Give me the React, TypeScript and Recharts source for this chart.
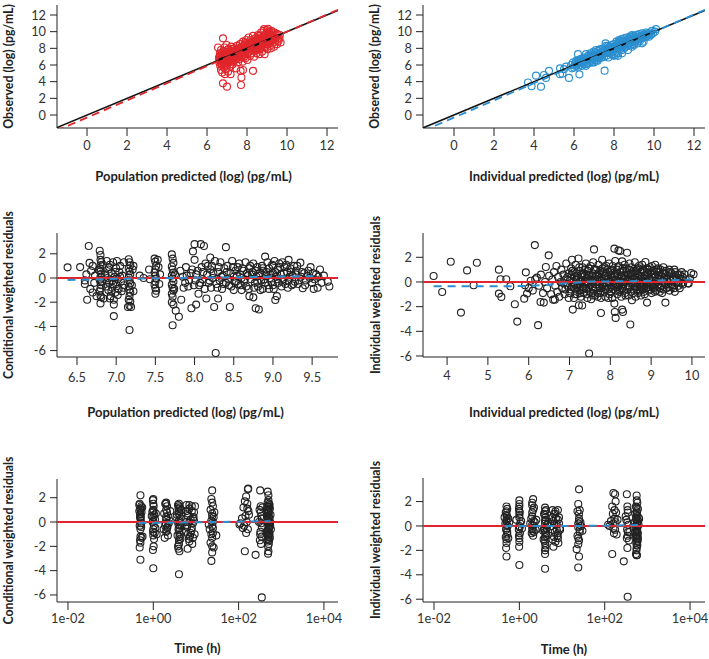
import React from "react";
import { ScatterChart, Scatter, XAxis, YAxis } from "recharts";

const RED = "#e0262c";
const BLUE = "#2b8fcf";
const INK = "#222222";

/* ---------- observed vs population predicted ---------- */
const predObs = [
  [6.55,8.1],[6.6,6.9],[6.62,6.3],[6.64,7.4],[6.66,5.9],[6.68,6.6],[6.7,7.8],[6.7,5.4],[6.72,6.1],[6.74,7.1],
  [6.75,6.8],[6.76,5.1],[6.78,7.5],[6.8,6.4],[6.8,9.2],[6.8,3.8],[6.82,6.9],[6.84,5.7],[6.85,7.3],[6.86,6.2],
  [6.88,8.1],[6.9,6.7],[6.9,4.9],[6.92,7.6],[6.94,5.5],[6.95,6.5],[6.97,7.0],[6.98,8.4],[7.0,3.4],[7.0,6.0],
  [7.02,7.2],[7.04,6.6],[7.05,5.2],[7.07,7.9],[7.1,6.3],[7.12,7.4],[7.15,6.9],[7.17,5.8],[7.18,4.9],[7.2,7.7],
  [7.2,6.5],[7.22,8.2],[7.25,7.0],[7.28,6.1],[7.3,7.5],[7.32,6.8],[7.35,8.0],[7.38,7.2],[7.4,6.6],[7.42,7.8],
  [7.45,5.6],[7.48,7.1],[7.5,8.3],[7.5,6.9],[7.52,7.5],[7.55,6.3],[7.58,8.0],[7.6,7.3],[7.62,6.7],[7.65,8.5],
  [7.68,5.3],[7.7,7.6],[7.7,3.6],[7.72,4.5],[7.72,6.9],[7.74,8.2],[7.76,7.2],[7.78,6.4],[7.8,8.8],[7.8,5.4],
  [7.82,7.8],[7.85,7.0],[7.88,8.4],[7.9,7.5],[7.92,6.8],[7.95,9.0],[7.97,8.1],[8.0,7.3],[8.0,8.7],[8.02,6.6],
  [8.05,7.9],[8.08,9.3],[8.1,7.6],[8.12,8.4],[8.15,7.1],[8.18,9.0],[8.2,8.0],[8.22,7.4],[8.25,8.8],[8.28,7.8],
  [8.3,5.3],[8.3,9.5],[8.32,8.3],[8.35,7.0],[8.38,8.6],[8.4,7.7],[8.42,9.2],[8.45,8.1],[8.48,7.4],[8.5,8.9],
  [8.52,8.4],[8.55,9.6],[8.58,7.9],[8.6,8.7],[8.62,7.3],[8.65,9.3],[8.68,8.2],[8.7,9.9],[8.72,8.6],[8.75,7.6],
  [8.78,9.1],[8.8,8.4],[8.82,10.1],[8.85,8.9],[8.88,7.3],[8.9,9.5],[8.92,8.1],[8.95,9.8],[8.98,8.7],[9.0,10.2],
  [9.0,9.1],[9.02,7.9],[9.05,8.5],[9.08,9.7],[9.1,8.9],[9.12,10.0],[9.15,8.3],[9.18,9.4],[9.2,8.0],[9.22,10.1],
  [9.25,9.0],[9.28,8.6],[9.3,9.6],[9.35,8.2],[9.38,9.9],[9.4,8.8],[9.45,9.3],[9.5,8.5],[9.52,9.7],[9.58,8.9],
  [9.62,9.2],[9.68,8.7],[7.0,7.5],[7.1,6.7],[6.95,6.2],[7.3,6.4],[7.6,7.9],[7.8,7.4],[8.0,8.2],[8.15,8.6],
  [8.4,8.3],[8.6,8.0],[8.8,9.3],[9.0,8.5],[9.2,9.3],[8.9,8.3],[8.7,8.5],[8.5,7.8],[8.3,8.0],[8.1,7.7],
  [7.9,8.0],[7.7,7.0],[7.4,7.0],[7.2,6.8],[6.85,6.5],[6.75,6.0],[6.65,7.0],[9.1,9.5],[9.3,9.1],[8.95,8.8],
  [8.65,8.8],[8.45,8.7],[8.85,10.3],[9.05,10.35],[8.6,9.5],[8.95,9.3],
  [6.62,6.6],[6.68,7.2],[6.72,6.4],[6.78,6.9],[6.83,7.7],[6.88,6.0],[6.93,7.1],[6.99,6.8],[7.03,7.8],[7.08,6.5],
  [7.13,7.0],[7.19,7.3],[7.24,6.6],[7.29,7.9],[7.34,7.1],[7.39,7.6],[7.44,6.8],[7.49,7.7],[7.54,7.0],[7.59,7.6],
  [7.64,7.3],[7.69,8.1],[7.74,7.5],[7.79,8.0],[7.84,7.7],[7.89,8.6],[7.94,7.8],[7.99,8.4],[8.04,8.1],[8.09,8.6],
  [8.14,7.9],[8.19,8.3],[8.24,8.6],[8.29,8.2],[8.34,8.9],[8.39,8.0],[8.44,8.5],[8.49,9.1],[8.54,8.7],[8.59,9.0],
  [8.64,8.5],[8.69,9.2],[8.74,8.9],[8.79,8.7],[8.84,9.5],[8.89,9.1],[8.94,9.6],[8.99,9.3],[9.04,9.9],[9.09,9.2],
  [9.14,9.7],[9.19,9.1],[9.24,9.5],[9.29,9.9],[9.34,9.3],[9.44,9.7],[9.54,9.2],[9.64,9.6],
];
const predObsTrend = [[-1.55, -1.9], [12.55, 12.62]];
const predObsSmooth = [[6.6, 6.7], [7.5, 7.4], [8.5, 8.45], [9.6, 9.6]];

/* ---------- observed vs individual predicted ---------- */
const ipredObs = [
  [3.7,3.9],[3.88,3.45],[4.1,4.72],[4.35,3.4],[4.5,4.8],[4.6,4.45],[4.75,5.3],[5.3,5.6],[5.3,4.9],[5.42,4.95],
  [5.75,4.45],[5.9,5.6],[6.2,7.3],[6.27,4.88],[7.53,5.32],[6.6,7.3],[5.5,5.5],[5.6,5.8],
  [5.85,6.0],[5.95,6.3],[6.0,5.7],[6.05,6.2],[6.1,6.5],[6.12,5.9],[6.15,6.1],[6.2,6.6],[6.22,5.8],[6.25,6.3],
  [6.3,6.0],[6.32,6.7],[6.35,6.4],[6.4,5.9],[6.42,6.8],[6.45,6.5],[6.5,6.2],[6.52,6.9],[6.55,6.6],[6.6,6.1],
  [6.62,6.8],[6.65,6.4],[6.7,7.1],[6.72,6.6],[6.75,6.2],[6.78,7.0],[6.8,6.7],[6.82,7.4],[6.85,6.5],[6.88,7.2],
  [6.9,6.9],[6.92,6.3],[6.95,7.1],[6.98,7.6],[7.0,6.8],[7.02,7.3],[7.05,6.6],[7.08,7.0],[7.1,7.5],[7.12,6.9],
  [7.15,7.2],[7.18,6.5],[7.2,7.7],[7.22,7.1],[7.25,6.8],[7.28,7.4],[7.3,7.0],[7.32,7.9],[7.35,7.3],[7.38,6.9],
  [7.4,7.6],[7.42,7.2],[7.45,8.0],[7.48,7.5],[7.5,7.0],[7.52,7.8],[7.55,7.4],[7.58,8.6],[7.6,7.7],[7.62,7.1],
  [7.65,8.0],[7.68,7.5],[7.7,7.9],[7.72,6.9],[7.75,7.7],[7.78,8.2],[7.8,7.4],[7.82,8.0],[7.85,7.6],[7.88,8.4],
  [7.9,7.9],[7.92,7.2],[7.95,8.1],[7.98,7.7],[8.0,8.5],[8.02,8.0],[8.05,7.5],[8.08,8.3],[8.1,7.9],[8.12,8.8],
  [8.15,8.2],[8.18,7.4],[8.2,8.6],[8.22,8.1],[8.25,9.0],[8.28,8.4],[8.3,7.9],[8.32,8.7],[8.35,8.2],[8.38,9.1],
  [8.4,8.5],[8.42,7.8],[8.45,8.8],[8.48,8.3],[8.5,9.2],[8.52,8.6],[8.55,8.1],[8.58,8.9],[8.6,8.5],[8.62,9.3],
  [8.65,8.8],[8.68,8.3],[8.7,9.0],[8.72,8.6],[8.75,9.2],[8.78,8.9],[8.8,8.4],[8.82,9.1],[8.85,8.7],[8.88,9.4],
  [8.9,9.0],[8.92,8.5],[8.95,9.2],[8.98,8.8],[9.0,9.5],[9.02,9.1],[9.05,8.7],[9.08,9.3],[9.1,9.0],[9.12,9.6],
  [9.15,9.2],[9.18,8.6],[9.2,9.4],[9.22,9.1],[9.25,9.7],[9.28,9.3],[9.3,8.9],[9.35,9.5],[9.38,9.2],[9.4,9.8],
  [9.45,9.4],[9.48,8.8],[9.5,9.6],[9.55,9.3],[9.6,9.9],[9.65,9.5],[9.7,9.7],[9.75,9.4],[9.8,9.9],[9.85,9.6],
  [9.9,10.1],[9.95,9.8],[10.05,10.0],[10.1,10.3],[8.1,7.2],[8.4,7.4],[8.7,7.8],[7.3,7.8],[6.6,5.9],[7.0,6.3],
  [8.9,8.2],[8.2,7.1],[9.4,8.6],[7.6,8.3],[8.0,7.1],[7.15,6.6],[6.9,6.4],[8.3,8.9],[8.55,8.5],[8.8,9.4],
  [6.05,5.9],[6.18,6.4],[6.28,6.5],[6.38,6.2],[6.48,6.7],[6.58,6.5],[6.68,6.8],[6.78,6.6],[6.86,6.9],[6.94,6.7],
  [7.03,7.0],[7.11,7.2],[7.19,7.0],[7.27,7.2],[7.36,7.5],[7.44,7.4],[7.53,7.6],[7.61,7.5],[7.69,7.7],[7.77,7.9],
  [7.86,7.8],[7.94,8.0],[8.03,8.2],[8.11,8.1],[8.19,8.3],[8.27,8.2],[8.36,8.5],[8.44,8.4],[8.53,8.7],[8.61,8.6],
  [8.69,8.8],[8.77,8.6],[8.86,9.0],[8.94,8.9],[9.03,9.2],[9.11,9.1],[9.19,9.3],[9.27,9.1],[9.36,9.4],[9.44,9.3],
  [9.53,9.5],[9.61,9.4],[9.69,9.8],[9.77,9.7],[7.4,6.9],[7.9,7.3],[8.5,8.0],[9.0,8.4],[7.1,7.8],[7.7,8.3],
  [8.3,8.8],[8.9,9.6],
];
const ipredObsTrend = [[-1.55, -1.9], [12.55, 12.62]];
const ipredObsSmooth = [[6.0, 6.0], [8.0, 8.0], [10.0, 10.0]];

/* ---------- CWRES vs population predicted ---------- */
const predCwres = [
  [6.38,0.88],[6.54,0.9],[6.6,-0.2],[6.6,-0.5],[6.62,0.3],[6.63,-1.8],[6.65,2.65],[6.66,1.25],[6.67,-0.9],[6.68,0.6],
  [6.7,-1.2],[6.7,1.0],[6.72,-0.4],[6.73,0.2],[6.75,-1.5],
  [6.79,2.25],[6.8,1.9],[6.8,1.5],[6.81,1.3],[6.8,1.05],[6.79,0.8],[6.8,0.55],[6.81,0.35],[6.8,0.1],[6.79,-0.15],
  [6.8,-0.35],[6.81,-0.6],[6.8,-0.85],[6.79,-1.1],[6.8,-1.45],[6.81,-1.6],[6.8,-2.1],[6.78,0.65],[6.82,-0.3],[6.83,1.1],
  [6.84,-1.7],
  [6.86,0.3],[6.87,-0.7],[6.88,1.4],[6.89,0.0],[6.9,-1.0],[6.9,0.7],[6.91,-0.4],[6.92,1.1],[6.93,-1.5],[6.94,0.4],
  [6.95,-0.2],[6.95,-0.8],[6.96,1.3],[6.97,-3.15],[6.97,-2.2],[6.98,0.1],[6.99,-1.2],[7.0,0.8],[7.0,-0.5],[7.01,1.4],
  [7.02,-0.1],[7.03,-0.9],[7.04,0.5],[7.05,1.0],[7.06,-0.3],[7.07,-1.1],[7.08,0.2],[7.1,1.3],[7.1,-0.6],[6.92,-1.7],
  [6.97,-1.8],[6.88,-0.2],[6.91,0.9],[6.94,-1.1],[6.99,0.5],[7.02,-1.4],[7.05,0.1],[7.09,-0.8],[6.96,-0.5],
  [7.16,1.55],[7.17,1.3],[7.18,1.05],[7.16,0.8],[7.17,0.55],[7.18,0.3],[7.16,0.05],[7.17,-0.2],[7.18,-0.45],[7.16,-0.7],
  [7.17,-0.95],[7.18,-1.2],[7.17,-1.5],[7.16,-1.8],[7.18,-1.95],[7.17,-2.3],[7.19,-2.4],[7.17,-4.3],[7.2,-0.6],[7.21,0.7],
  [7.22,-1.1],[7.22,1.0],[7.15,-2.4],
  [7.35,0.0],[7.42,0.7],[7.43,-0.1],[7.3,0.2],
  [7.49,1.6],[7.5,1.35],[7.51,1.0],[7.5,0.7],[7.49,0.45],[7.5,0.2],[7.51,-0.05],[7.5,-0.3],[7.49,-0.55],[7.5,-0.85],
  [7.51,-1.05],[7.5,-1.3],[7.53,1.5],[7.55,-0.5],[7.54,0.9],[7.56,0.3],
  [7.71,1.95],[7.72,1.6],[7.73,1.25],[7.71,0.95],[7.72,0.7],[7.73,0.45],[7.71,0.2],[7.72,-0.05],[7.73,-0.3],[7.71,-0.55],
  [7.72,-0.8],[7.73,-1.05],[7.71,-1.3],[7.72,-1.55],[7.71,-2.0],[7.73,-2.2],[7.76,-2.7],[7.72,-3.9],[7.8,-3.2],[7.83,-1.8],
  [7.75,0.3],[7.74,-0.9],
  [7.85,0.1],[7.88,-0.4],[7.9,0.2],[7.92,-0.7],[7.95,0.4],[7.96,-2.5],[7.98,2.2],[8.0,2.8],[8.0,1.5],[8.01,-0.2],
  [8.02,-2.2],[8.04,0.6],[8.05,-1.3],[8.06,-0.6],[8.08,2.8],[8.09,0.9],[8.1,-0.1],[8.12,2.65],[8.13,-0.9],[8.14,1.2],
  [8.15,-1.7],[8.16,0.3],[8.18,-0.4],[8.2,1.7],[8.2,0.7],[8.21,-0.8],[8.22,1.0],[8.23,0.0],
  [7.82,0.6],[7.86,-0.8],[7.89,0.9],[7.93,-0.2],[7.97,0.7],[7.99,-0.6],
  [8.25,-2.4],[8.26,1.4],[8.27,-6.2],[8.28,-0.5],[8.3,0.5],[8.3,-1.7],[8.32,-0.2],[8.33,1.3],[8.35,-0.9],[8.36,0.2],
  [8.38,0.8],[8.4,2.55],[8.4,-0.4],[8.42,1.0],[8.43,-0.1],[8.45,-2.4],[8.46,0.4],[8.47,-0.7],[8.48,1.4],[8.5,0.1],
  [8.5,-1.0],[8.52,0.6],[8.53,-0.3],
  [8.55,0.9],[8.56,-0.5],[8.58,0.3],[8.6,-1.0],[8.6,0.0],[8.62,0.6],[8.63,-0.3],[8.65,1.3],[8.66,-0.7],[8.68,0.2],
  [8.7,-1.5],[8.7,0.8],[8.72,-0.1],[8.74,0.5],[8.75,-1.6],[8.75,1.2],[8.77,-0.4],[8.78,-2.5],[8.79,0.1],[8.8,0.9],
  [8.81,-0.7],[8.82,-2.6],[8.83,0.4],[8.85,-0.2],[8.86,1.0],[8.87,-0.9],[8.88,0.6],[8.9,1.77],[8.9,-0.4],[8.91,0.2],
  [8.93,1.3],[8.94,-0.6],[8.95,0.8],[8.96,0.0],[8.98,-0.3],[8.99,1.1],[9.0,0.4],
  [8.02,0.3],[8.07,-0.4],[8.11,0.5],[8.17,1.0],[8.19,-0.2],[8.24,0.4],[8.29,-0.8],[8.31,0.9],[8.34,0.1],[8.37,-0.5],
  [8.41,0.5],[8.44,-0.6],[8.49,0.9],[8.51,-0.3],[8.54,0.2],[8.57,1.2],[8.59,-0.6],[8.61,0.8],[8.64,-0.1],[8.67,0.4],
  [8.69,-0.9],[8.71,1.0],[8.73,0.3],[8.76,-0.8],[8.78,0.6],[8.8,-0.3],[8.82,0.2],[8.84,-1.0],[8.87,0.8],[8.89,-0.1],
  [8.92,0.5],[8.95,-0.9],[8.97,0.3],[9.0,1.0],[9.0,-0.6],
  [9.01,-0.9],[9.02,1.4],[9.03,-1.82],[9.04,0.1],[9.05,-1.5],[9.06,0.7],[9.07,-0.4],[9.08,1.2],[9.1,0.3],[9.11,-0.7],
  [9.12,1.3],[9.13,-0.1],[9.15,0.9],[9.16,-0.5],[9.18,0.5],[9.2,1.5],[9.2,-0.2],[9.22,0.8],[9.24,-0.6],[9.25,0.2],
  [9.27,1.0],[9.28,-0.3],[9.03,0.5],[9.06,-0.1],[9.09,0.9],[9.12,-0.3],[9.14,0.4],[9.17,1.1],[9.19,-0.8],[9.21,0.1],
  [9.23,0.5],[9.26,-0.5],[9.29,0.3],
  [9.3,0.6],[9.32,-0.5],[9.35,1.27],[9.36,0.1],[9.38,-0.85],[9.4,0.4],[9.42,-0.2],[9.45,0.6],[9.47,0.0],[9.5,-0.4],
  [9.52,-0.9],[9.55,0.3],[9.57,-0.8],[9.6,0.7],[9.65,0.2],[9.7,-0.3],[9.72,-0.7],[9.31,1.0],[9.33,-0.2],[9.37,0.5],
  [9.41,-0.6],[9.44,0.2],[9.48,0.9],[9.51,0.4],[9.53,-0.1],[9.58,0.1],[9.62,-0.4],
];
const predCwresSmooth = [[6.38,-0.17],[6.7,-0.12],[7.0,-0.07],[7.5,-0.02],[8.0,0.02],[8.5,0.06],[9.0,0.1],[9.6,0.16]];

/* ---------- IWRES vs individual predicted ---------- */
const ipredIwres = [
  [3.67,0.49],[3.88,-0.81],[4.09,1.64],[4.34,-2.48],[4.49,0.94],[4.65,-0.27],[4.73,1.56],[5.27,1.0],[5.27,-0.94],[5.33,-1.21],
  [5.31,0.22],[5.45,0.22],[5.55,-0.35],[5.66,-1.81],[5.72,-3.21],[5.93,0.78],[5.89,-1.35],[5.96,-0.94],[5.91,-0.27],[6.15,2.99],
  [6.16,0.22],[6.23,-3.5],[6.29,-1.62],[6.49,2.16],[6.42,1.21],[6.37,-1.67],[6.6,-1.43],[6.64,-1.43],[6.0,-0.5],[6.05,0.1],
  [6.1,-0.7],[6.2,0.35],[6.25,-0.3],[6.3,0.6],[6.35,-0.9],[6.4,0.0],[6.45,-0.5],[6.5,0.5],[6.55,-1.0],[6.58,0.2],
  [6.62,0.8],[6.65,-0.3],[6.68,1.3],[6.7,-0.8],[6.72,0.4],[6.75,-1.2],[6.78,0.0],[6.8,1.0],[6.82,-0.5],[6.85,0.6],
  [6.88,-1.0],[6.9,0.2],[6.92,1.5],[6.95,-0.3],[6.98,0.7],[6.85,-0.1],[6.9,-0.6],[6.95,0.4],[6.98,-1.3],
  [7.0,-0.9],[7.02,0.3],[7.04,1.1],[7.05,-0.4],[7.06,1.8],[7.08,-2.24],[7.1,0.0],[7.11,-1.3],[7.12,0.8],[7.14,-0.6],
  [7.15,1.4],[7.16,0.2],[7.18,-1.0],[7.2,0.5],[7.21,-0.2],[7.22,1.9],[7.23,-1.89],[7.24,-0.7],[7.25,0.9],[7.27,0.1],
  [7.28,-1.2],[7.3,0.4],[7.31,-1.91],[7.32,1.2],[7.33,-0.4],[7.35,0.7],[7.36,-0.9],[7.38,0.0],[7.4,1.5],[7.41,-0.5],
  [7.42,0.3],[7.44,-1.3],[7.45,0.9],[7.46,-0.1],[7.48,-5.8],[7.48,0.5],[7.5,-0.8],[7.05,0.6],[7.13,-0.2],[7.27,-0.4],
  [7.37,0.5],[7.47,1.1],[7.01,0.1],[7.03,-0.6],[7.07,0.9],[7.09,-0.3],[7.12,0.4],[7.14,-1.0],[7.17,0.7],[7.19,-0.4],
  [7.21,0.2],[7.24,1.2],[7.26,-0.9],[7.29,0.0],[7.31,0.6],[7.34,-0.6],[7.37,1.0],[7.39,-0.2],[7.42,-1.0],[7.44,0.6],
  [7.47,-0.5],[7.49,0.2],
  [7.52,1.3],[7.53,-1.4],[7.54,0.1],[7.55,-0.4],[7.57,0.7],[7.58,1.6],[7.6,2.64],[7.6,-0.7],[7.62,0.3],[7.63,-1.1],
  [7.65,1.0],[7.66,-0.2],[7.68,0.6],[7.7,-0.9],[7.71,1.4],[7.72,0.0],[7.74,-0.5],[7.75,0.9],[7.77,-2.51],[7.77,-1.3],
  [7.78,0.4],[7.8,1.8],[7.8,-0.3],[7.82,0.8],[7.83,-0.8],[7.85,0.2],[7.86,1.2],[7.88,-1.2],[7.9,0.5],[7.91,-0.1],
  [7.93,1.0],[7.94,-0.6],[7.96,0.3],[7.97,1.5],[7.98,-1.0],[8.0,0.0],[7.56,-0.9],[7.64,0.5],[7.73,-0.2],[7.84,-0.4],
  [7.95,0.8],[7.52,-0.2],[7.55,0.5],[7.57,-1.1],[7.59,0.0],[7.62,1.0],[7.64,-0.5],[7.67,0.2],[7.69,-1.2],[7.72,0.7],
  [7.74,0.2],[7.76,-0.9],[7.79,0.1],[7.81,1.1],[7.83,-0.1],[7.86,0.5],[7.88,-0.6],[7.9,1.3],[7.92,-0.3],[7.95,-1.3],
  [7.97,0.0],
  [8.01,0.9],[8.02,-0.4],[8.04,0.4],[8.05,-1.3],[8.06,1.3],[8.08,-0.1],[8.1,2.7],[8.1,-1.75],[8.11,-2.43],[8.11,0.6],
  [8.12,1.7],[8.13,-2.91],[8.13,-0.7],[8.15,0.2],[8.16,1.0],[8.17,-1.0],[8.18,0.5],[8.2,2.56],[8.2,-0.3],[8.21,1.3],
  [8.22,-0.8],[8.24,2.51],[8.24,0.1],[8.25,0.8],[8.27,-1.2],[8.28,0.4],[8.29,1.67],[8.29,-2.24],[8.3,-0.5],[8.31,-2.43],
  [8.32,0.9],[8.33,0.0],[8.35,1.4],[8.36,-0.9],[8.37,0.3],[8.38,-0.3],[8.4,1.1],[8.41,2.37],[8.42,-0.6],[8.43,0.6],
  [8.45,-1.1],[8.46,0.1],[8.47,1.5],[8.48,-0.4],[8.49,-3.45],[8.5,0.7],[8.07,0.1],[8.14,-0.2],[8.23,-0.1],[8.34,0.5],
  [8.44,0.2],[8.0,0.6],[8.02,-0.8],[8.04,1.0],[8.07,-0.6],[8.09,0.4],[8.12,-0.3],[8.14,0.7],[8.17,-0.4],[8.19,1.2],
  [8.21,0.0],[8.23,-0.6],[8.26,0.5],[8.28,-0.2],[8.3,1.1],[8.33,-0.7],[8.35,0.2],[8.37,-1.1],[8.39,0.8],[8.42,0.1],
  [8.44,-0.3],[8.46,1.0],[8.48,0.3],
  [8.51,-0.8],[8.52,1.2],[8.53,-1.48],[8.54,0.3],[8.55,-0.1],[8.57,0.9],[8.58,-0.6],[8.6,1.6],[8.61,0.4],[8.62,-1.2],
  [8.63,0.0],[8.65,1.0],[8.66,-0.4],[8.67,0.6],[8.68,-0.9],[8.7,1.3],[8.71,0.2],[8.72,-0.3],[8.74,0.8],[8.75,-1.1],
  [8.76,0.4],[8.78,1.4],[8.79,-0.6],[8.8,0.1],[8.82,0.9],[8.83,-0.2],[8.84,-1.0],[8.86,1.62],[8.86,0.5],[8.88,-0.5],
  [8.9,-1.67],[8.9,1.1],[8.91,0.0],[8.93,0.7],[8.94,-0.7],[8.95,0.3],[8.97,1.2],[8.98,-0.3],[9.0,0.6],[8.64,0.7],
  [8.73,-0.7],[8.85,0.3],[8.96,-0.1],[8.51,0.0],[8.53,0.6],[8.56,-0.9],[8.58,0.2],[8.6,-0.2],[8.62,0.9],[8.64,-0.6],
  [8.67,0.1],[8.69,1.1],[8.71,-0.6],[8.73,0.5],[8.75,0.0],[8.77,-0.4],[8.8,1.0],[8.82,-0.8],[8.84,0.5],[8.87,-0.1],
  [8.89,0.8],[8.92,-0.4],[8.94,1.0],[8.96,0.2],[8.99,-0.6],
  [9.01,-0.9],[9.02,1.3],[9.04,0.1],[9.05,-0.5],[9.06,0.9],[9.08,-0.2],[9.1,1.4],[9.11,0.4],[9.12,-0.7],[9.14,0.8],
  [9.15,0.0],[9.17,1.1],[9.18,-0.4],[9.2,0.5],[9.21,-0.8],[9.23,1.0],[9.24,0.2],[9.26,-0.3],[9.28,0.7],[9.3,1.2],
  [9.3,-0.6],[9.32,0.3],[9.34,-0.1],[9.35,-1.67],[9.36,0.9],[9.38,-0.5],[9.4,0.5],[9.42,0.0],[9.44,1.0],[9.45,-0.7],
  [9.47,0.3],[9.49,-0.2],[9.02,0.4],[9.04,-0.3],[9.07,0.6],[9.09,-0.8],[9.11,0.1],[9.13,1.0],[9.16,-0.2],[9.19,0.8],
  [9.22,-0.5],[9.25,0.5],[9.27,-0.9],[9.29,0.1],[9.33,0.7],[9.37,-0.2],[9.39,0.2],[9.43,-0.4],[9.46,0.8],[9.48,0.1],
  [9.5,0.7],[9.52,-0.4],[9.55,0.2],[9.57,1.0],[9.58,-0.8],[9.6,0.4],[9.62,-0.1],[9.65,0.6],[9.68,0.0],[9.7,-0.5],
  [9.72,0.3],[9.75,0.8],[9.78,-0.2],[9.82,0.62],[9.85,0.2],[9.9,-0.1],[9.92,-0.13],[9.98,0.73],[10.04,0.62],[9.95,0.3],
  [9.53,0.4],[9.56,-0.5],[9.59,0.8],[9.63,0.2],[9.67,-0.3],[9.71,0.6],[9.74,-0.1],[9.77,0.4],
];
const ipredIwresSmooth = [[3.67,-0.35],[5.0,-0.35],[6.0,-0.33],[6.5,-0.22],[7.0,-0.08],[7.5,0.03],[8.0,0.05],[8.5,0.06],[9.0,0.1],[9.5,0.15],[10.0,0.2]];

/* ---------- CWRES vs time ---------- */
const timeCwres = [
  [0.5,2.2],[0.48,1.5],[0.52,1.3],[0.5,1.1],[0.47,0.9],[0.53,0.8],[0.5,0.7],[0.49,0.6],[0.51,0.45],[0.5,0.3],
  [0.48,-0.3],[0.52,-0.4],[0.5,-1.2],[0.53,-1.3],[0.49,-1.5],[0.5,-1.7],[0.48,-2.1],[0.5,-3.1],[0.51,0.1],[0.55,1.2],
  [0.56,-1.2],[0.5,1.0],[0.49,0.4],[0.52,-0.1],[0.5,-0.6],[0.47,1.4],
  [1.0,1.9],[0.98,1.8],[1.02,1.3],[1.0,1.0],[0.95,0.85],[1.05,0.6],[1.0,0.4],[1.1,0.2],[0.97,0.0],[1.03,-0.3],
  [1.0,-0.6],[1.08,-0.9],[1.0,-1.1],[1.02,-2.0],[0.98,-2.3],[1.0,-3.8],[1.12,-0.5],[1.15,0.7],[1.2,-1.0],[0.92,0.5],
  [1.0,1.5],[1.01,0.9],[0.99,-0.8],[1.04,-1.4],[1.0,0.1],
  [2.0,1.6],[1.9,1.5],[2.1,1.3],[2.0,1.0],[1.8,0.7],[2.2,0.5],[2.0,0.2],[2.3,-0.1],[1.9,-0.3],[2.1,-0.5],
  [2.0,-0.8],[2.2,-1.1],[1.85,-1.3],[2.4,0.1],[2.5,0.9],[1.75,-0.6],[2.0,1.5],[2.1,0.8],[1.95,-0.1],[2.05,-0.7],
  [2.0,0.4],[2.15,-0.4],
  [4.0,1.5],[3.8,1.4],[4.2,1.2],[4.0,0.9],[3.6,0.6],[4.4,0.3],[4.0,0.1],[3.9,-0.2],[4.1,-0.5],[4.0,-0.8],
  [3.7,-1.1],[4.3,-1.4],[4.0,-1.8],[3.9,-2.2],[4.1,-2.4],[4.0,-4.3],[4.6,-0.3],[4.5,1.0],[3.5,0.4],[4.2,-1.0],
  [4.0,1.3],[3.9,1.1],[4.1,0.5],[3.8,0.0],[4.2,-0.3],[3.9,-0.6],[4.1,-1.2],[4.0,-1.5],[3.8,-2.0],[4.0,0.7],
  [6.0,1.4],[8.0,1.3],[7.0,1.1],[9.0,0.8],[6.5,0.5],[7.5,0.2],[8.5,-0.1],[6.2,-0.4],[7.8,-0.7],[9.3,-1.0],
  [6.8,-1.4],[8.2,-1.8],[6.4,-2.2],[5.8,0.0],[9.5,1.3],[7.2,-1.2],[8.8,0.4],[5.9,-0.8],[7.0,1.4],[8.0,0.9],
  [6.5,0.7],[8.5,0.3],[7.0,0.0],[6.0,-0.3],[8.0,-0.5],[7.5,-0.9],[6.5,-1.0],[8.5,-1.3],[7.0,-1.6],[6.0,0.9],
  [9.0,0.1],
  [24,2.6],[23,1.9],[25,1.3],[22,1.0],[24,0.7],[26,0.4],[23,0.1],[24,-0.3],[21,-0.6],[25,-0.9],
  [24,-1.3],[22,-1.7],[26,-2.1],[24,-2.5],[23,-3.2],[30,-1.1],[27,0.8],[20,-0.2],[24,1.6],[24,0.5],
  [25,-0.5],[23,-1.0],[24,-2.0],[25,0.0],
  [168,2.75],[165,2.7],[150,2.1],[140,1.7],[160,1.5],[130,1.2],[170,0.9],[145,0.5],[120,0.3],[110,-0.1],
  [155,0.0],[135,-0.3],[165,-0.6],[150,-0.9],[140,-2.4],[125,-0.5],[175,0.6],[105,-0.2],[160,1.1],
  [320,2.6],[330,1.3],[310,1.0],[340,0.5],[300,0.0],[350,-0.4],[325,-0.8],[345,-1.2],[315,-1.5],[335,-1.8],
  [250,-2.7],[350,-6.2],[280,0.2],[360,1.2],[330,0.8],[340,-0.1],[320,-1.0],[350,0.3],
  [480,2.5],[500,1.8],[520,1.5],[470,1.3],[540,1.1],[490,0.9],[510,0.7],[460,0.5],[530,0.3],[500,0.1],
  [480,-0.1],[550,-0.3],[505,-0.5],[470,-0.7],[520,-0.9],[495,-1.1],[540,-1.3],[480,-1.6],[510,-1.8],[500,-2.4],
  [490,-2.6],[560,0.6],[450,1.0],[520,-0.2],[530,1.4],[460,-1.0],[570,-0.6],[485,0.2],[500,2.2],[480,1.6],
  [520,1.2],[500,0.8],[510,0.4],[490,0.0],[530,-0.4],[480,-0.8],[505,-1.2],[520,-1.5],[490,-2.0],[500,1.0],
  [510,-0.6],[475,0.4],[545,0.0],[530,-1.0],[505,1.3],[495,-1.4],
];
const timeCwresSmooth = [[0.45,-0.07],[1,-0.06],[4,-0.04],[10,-0.02],[30,0.0],[100,0.03],[300,0.06],[560,0.07]];

/* ---------- IWRES vs time ---------- */
const timeIwres = [
  [0.5,1.6],[0.52,1.4],[0.48,1.1],[0.5,0.9],[0.55,0.6],[0.5,0.4],[0.47,0.2],[0.53,0.0],[0.5,-0.2],[0.52,-0.5],
  [0.48,-0.9],[0.5,-1.1],[0.55,-1.0],[0.5,-1.4],[0.49,-1.8],[0.5,-2.5],[0.58,0.3],[0.45,0.7],[0.5,1.2],[0.51,0.8],
  [0.5,0.1],[0.49,-0.3],[0.52,-0.7],[0.5,0.5],
  [1.0,2.1],[1.0,1.8],[0.98,1.4],[1.02,1.1],[1.0,0.9],[0.85,0.5],[1.05,0.2],[1.0,0.0],[0.97,-0.3],[1.03,-0.6],
  [1.0,-1.0],[1.0,-1.3],[0.99,-1.7],[1.0,-3.2],[1.1,0.4],[1.15,-0.2],[1.0,1.6],[1.0,0.7],[1.02,-0.1],[0.98,-0.8],
  [1.0,1.2],
  [2.1,2.2],[2.0,1.9],[2.2,1.5],[2.0,1.1],[1.9,0.6],[2.3,0.3],[2.1,0.0],[2.0,-0.2],[2.2,-0.5],[2.1,-0.8],
  [2.5,0.5],[1.8,0.2],[2.4,-0.3],[2.0,1.7],[2.1,1.3],[2.0,0.8],[2.15,0.4],[2.0,0.1],[2.05,-0.4],[1.95,-0.6],
  [4.0,1.5],[4.2,1.3],[3.8,1.0],[4.1,0.7],[4.0,0.4],[4.5,0.1],[3.9,-0.2],[4.0,-0.5],[4.3,-0.8],[3.7,-1.1],
  [4.0,-1.4],[4.1,-1.8],[4.0,-2.3],[4.0,-3.5],[4.8,0.3],[3.6,-0.4],[4.0,1.2],[3.9,0.9],[4.1,0.5],[4.0,0.2],
  [3.8,-0.3],[4.2,-0.6],[4.0,-0.9],[3.9,-1.2],[4.1,-1.6],[4.0,-2.0],[4.4,-0.2],
  [6.0,1.3],[8.0,1.3],[7.0,1.2],[6.5,1.0],[8.5,0.7],[6.2,0.4],[7.5,0.1],[8.8,-0.2],[6.8,-0.5],[7.8,-0.8],
  [6.0,-1.1],[8.2,-1.4],[6.3,-1.7],[9.0,-0.3],[5.6,0.0],[7.2,0.6],[7.0,1.0],[6.0,0.7],[8.0,0.5],[6.5,0.2],
  [7.5,-0.3],[8.0,-0.6],[6.5,-0.9],[7.0,-1.3],[8.0,-1.0],[6.0,-0.3],[8.5,0.2],
  [25,3.0],[24,1.8],[26,1.3],[23,1.2],[25,0.6],[27,0.3],[24,-0.1],[26,-0.5],[23,-0.8],[25,-1.2],
  [24,-1.5],[22,-1.9],[25,-2.5],[24,-3.4],[28,0.0],[30,-0.4],[25,1.0],[24,0.2],[26,-0.3],[24,-1.0],
  [25,0.4],
  [160,2.7],[175,2.6],[180,2.0],[150,1.6],[170,1.3],[185,1.1],[140,0.4],[160,0.2],[130,0.0],[175,-0.3],
  [165,-0.6],[190,-0.7],[150,-2.3],[120,0.1],[200,0.5],[170,0.6],[160,-0.2],[180,0.3],[155,1.0],
  [330,2.6],[340,1.6],[350,1.1],[320,0.5],[360,0.1],[335,-0.3],[345,-0.8],[370,-1.2],[340,-1.8],[280,-2.9],
  [345,-5.8],[310,0.8],[380,-0.5],[340,0.3],[350,-0.5],[330,-1.0],[345,1.3],
  [560,2.5],[580,1.9],[540,1.6],[600,1.4],[560,1.2],[520,1.0],[590,0.8],[550,0.6],[610,0.4],[570,0.2],
  [530,0.0],[580,-0.2],[560,-0.4],[600,-0.6],[540,-0.8],[570,-1.0],[590,-1.2],[550,-1.4],[580,-1.6],[560,-1.8],
  [540,-2.3],[570,-2.4],[620,0.1],[500,0.3],[600,-1.0],[520,-0.5],[640,0.6],[560,0.9],[560,1.5],[570,1.1],
  [550,0.7],[580,0.3],[560,-0.1],[570,-0.5],[550,-0.9],[580,-1.3],[565,-1.6],[555,-2.0],[590,0.0],[545,0.5],
  [575,-0.8],[565,2.1],[560,-2.4],
];
const timeIwresSmooth = [[0.45,0.0],[1,0.0],[10,-0.01],[100,0.02],[300,0.06],[600,0.08]];

const zeroLineLin = [[0, 0], [20, 0]];
const zeroLineLog = [[0.001, 0], [100000, 0]];
const diagLine = [[-1.55, -1.55], [12.6, 12.6]];

const obsTicks = [0, 2, 4, 6, 8, 10, 12];
const resTicks = [-6, -4, -2, 0, 2];
const predTicks = [6.5, 7.0, 7.5, 8.0, 8.5, 9.0, 9.5];
const ipredTicks = [4, 5, 6, 7, 8, 9, 10];
const timeTicks = [0.01, 1, 100, 10000];

const toPts = (arr: number[][]) => arr.map(([x, y]) => ({ x, y }));

const ring = (color: string) => (p: any) => (
  <circle cx={p.cx} cy={p.cy} r={3.5} fill="none" stroke={color} strokeWidth={1.1} />
);
const noDot = () => <g />;

const fmtExp = (v: number) => {
  const e = Math.round(Math.log10(v));
  return `1e${e < 0 ? "-" : "+"}${String(Math.abs(e)).padStart(2, "0")}`;
};
const fmtOne = (v: number) => v.toFixed(1);

const yTitleStyle = { fontWeight: 700, fontSize: 12.3, fill: "#222", textAnchor: "middle" };
const xTitleStyle = { fontWeight: 700, fontSize: 13, fill: "#222" };
const tickStyle = { fill: "#333", fontSize: 12.8 };

function pts(data: number[][], color: string) {
  return <Scatter data={toPts(data)} shape={ring(color)} isAnimationActive={false} />;
}
function line(data: number[][], color: string, width: number, dash?: string) {
  return (
    <Scatter
      data={toPts(data)}
      shape={noDot}
      line={{ stroke: color, strokeWidth: width, strokeDasharray: dash }}
      lineType="joint"
      isAnimationActive={false}
    />
  );
}

function Panel(props: any) {
  const {
    left, top, yAxisW, plotW, plotH, xAxisH, xDomain, yDomain, xTicks, yTicks,
    xScale, xFmt, xLabel, yLabel, yLabelOff, xTickMargin, xLabelDx, xLabelOff, children,
  } = props;
  return (
    <div style={{ position: "absolute", left, top }}>
      <ScatterChart
        width={yAxisW + plotW + 4}
        height={5 + plotH + xAxisH}
        margin={{ top: 5, right: 4, bottom: 0, left: 0 }}
      >
        <XAxis
          type="number"
          dataKey="x"
          scale={xScale || "linear"}
          domain={xDomain}
          ticks={xTicks}
          interval={0}
          allowDataOverflow
          tickFormatter={xFmt}
          tickSize={8}
          tickMargin={xTickMargin}
          height={xAxisH}
          stroke={INK}
          tick={tickStyle}
          label={{ value: xLabel, position: "insideBottom", offset: xLabelOff ?? 4, dx: xLabelDx || 0, style: xTitleStyle }}
        />
        <YAxis
          type="number"
          dataKey="y"
          domain={yDomain}
          ticks={yTicks}
          interval={0}
          allowDataOverflow
          tickSize={7}
          tickMargin={4}
          width={yAxisW}
          stroke={INK}
          tick={tickStyle}
          label={{ value: yLabel, angle: -90, position: "insideLeft", offset: yLabelOff, style: yTitleStyle }}
        />
        {children}
      </ScatterChart>
    </div>
  );
}

export default function App() {
  return (
    <div
      style={{
        position: "absolute", left: 0, top: 0, width: 709, height: 659,
        overflow: "hidden", background: "#fff", fontFamily: "Lato, 'Open Sans', sans-serif",
      }}
    >
      <style>{`.recharts-surface{overflow:visible}`}</style>

      {/* fila 1: observado vs predicho */}
      <Panel left={0} top={0} yAxisW={57} plotW={281} plotH={123} xAxisH={60}
        xDomain={[-1.5, 12.55]} yDomain={[-1.56, 13.2]} xTicks={obsTicks} yTicks={obsTicks}
        xTickMargin={5} xLabelDx={-4} xLabelOff={7}
        xLabel="Population predicted (log) (pg/mL)" yLabel="Observed (log) (pg/mL)" yLabelOff={9}>
        {pts(predObs, RED)}
        {line(diagLine, "#111", 1.6)}
        {line(predObsSmooth, "#111", 1.8, "7 5")}
        {line(predObsTrend, RED, 1.8, "8 5")}
      </Panel>
      <Panel left={354} top={0} yAxisW={69} plotW={282} plotH={123} xAxisH={60}
        xDomain={[-1.55, 12.55]} yDomain={[-1.56, 13.2]} xTicks={obsTicks} yTicks={obsTicks}
        xTickMargin={5} xLabelOff={7}
        xLabel="Individual predicted (log) (pg/mL)" yLabel="Observed (log) (pg/mL)" yLabelOff={21}>
        {pts(ipredObs, BLUE)}
        {line(diagLine, "#111", 1.6)}
        {line(ipredObsSmooth, "#111", 1.8, "7 5")}
        {line(ipredObsTrend, BLUE, 1.8, "8 5")}
      </Panel>

      {/* fila 2: residuos vs predicho */}
      <Panel left={0} top={228} yAxisW={57} plotW={281} plotH={124} xAxisH={64}
        xDomain={[6.245, 9.83]} yDomain={[-6.53, 3.72]} xTicks={predTicks} yTicks={resTicks}
        xFmt={fmtOne} xTickMargin={8} xLabelDx={-12}
        xLabel="Population predicted (log) (pg/mL)" yLabel="Conditional weighted residuals" yLabelOff={9}>
        {pts(predCwres, INK)}
        {line(zeroLineLin, RED, 2)}
        {line(predCwresSmooth, BLUE, 2, "8 6")}
      </Panel>
      <Panel left={354} top={228} yAxisW={69} plotW={282} plotH={124} xAxisH={64}
        xDomain={[3.41, 10.32]} yDomain={[-6.08, 3.97]} xTicks={ipredTicks} yTicks={resTicks}
        xTickMargin={6}
        xLabel="Individual predicted (log) (pg/mL)" yLabel="Individual weighted residuals" yLabelOff={22}>
        {pts(ipredIwres, INK)}
        {line(zeroLineLin, RED, 2)}
        {line(ipredIwresSmooth, BLUE, 2, "8 6")}
      </Panel>

      {/* fila 3: residuos vs tiempo */}
      <Panel left={0} top={474} yAxisW={57} plotW={281} plotH={123} xAxisH={55}
        xScale="log" xDomain={[0.00553, 21380]} yDomain={[-6.58, 3.54]} xTicks={timeTicks} yTicks={resTicks}
        xFmt={fmtExp} xTickMargin={4}
        xLabel="Time (h)" yLabel="Conditional weighted residuals" yLabelOff={9}>
        {pts(timeCwres, INK)}
        {line(zeroLineLog, RED, 2)}
        {line(timeCwresSmooth, BLUE, 2, "8 6")}
      </Panel>
      <Panel left={354} top={473} yAxisW={69} plotW={282} plotH={124} xAxisH={56}
        xScale="log" xDomain={[0.00552, 22390]} yDomain={[-6.23, 3.93]} xTicks={timeTicks} yTicks={resTicks}
        xFmt={fmtExp} xTickMargin={4}
        xLabel="Time (h)" yLabel="Individual weighted residuals" yLabelOff={22}>
        {pts(timeIwres, INK)}
        {line(zeroLineLog, RED, 2)}
        {line(timeIwresSmooth, BLUE, 2, "8 6")}
      </Panel>
    </div>
  );
}
